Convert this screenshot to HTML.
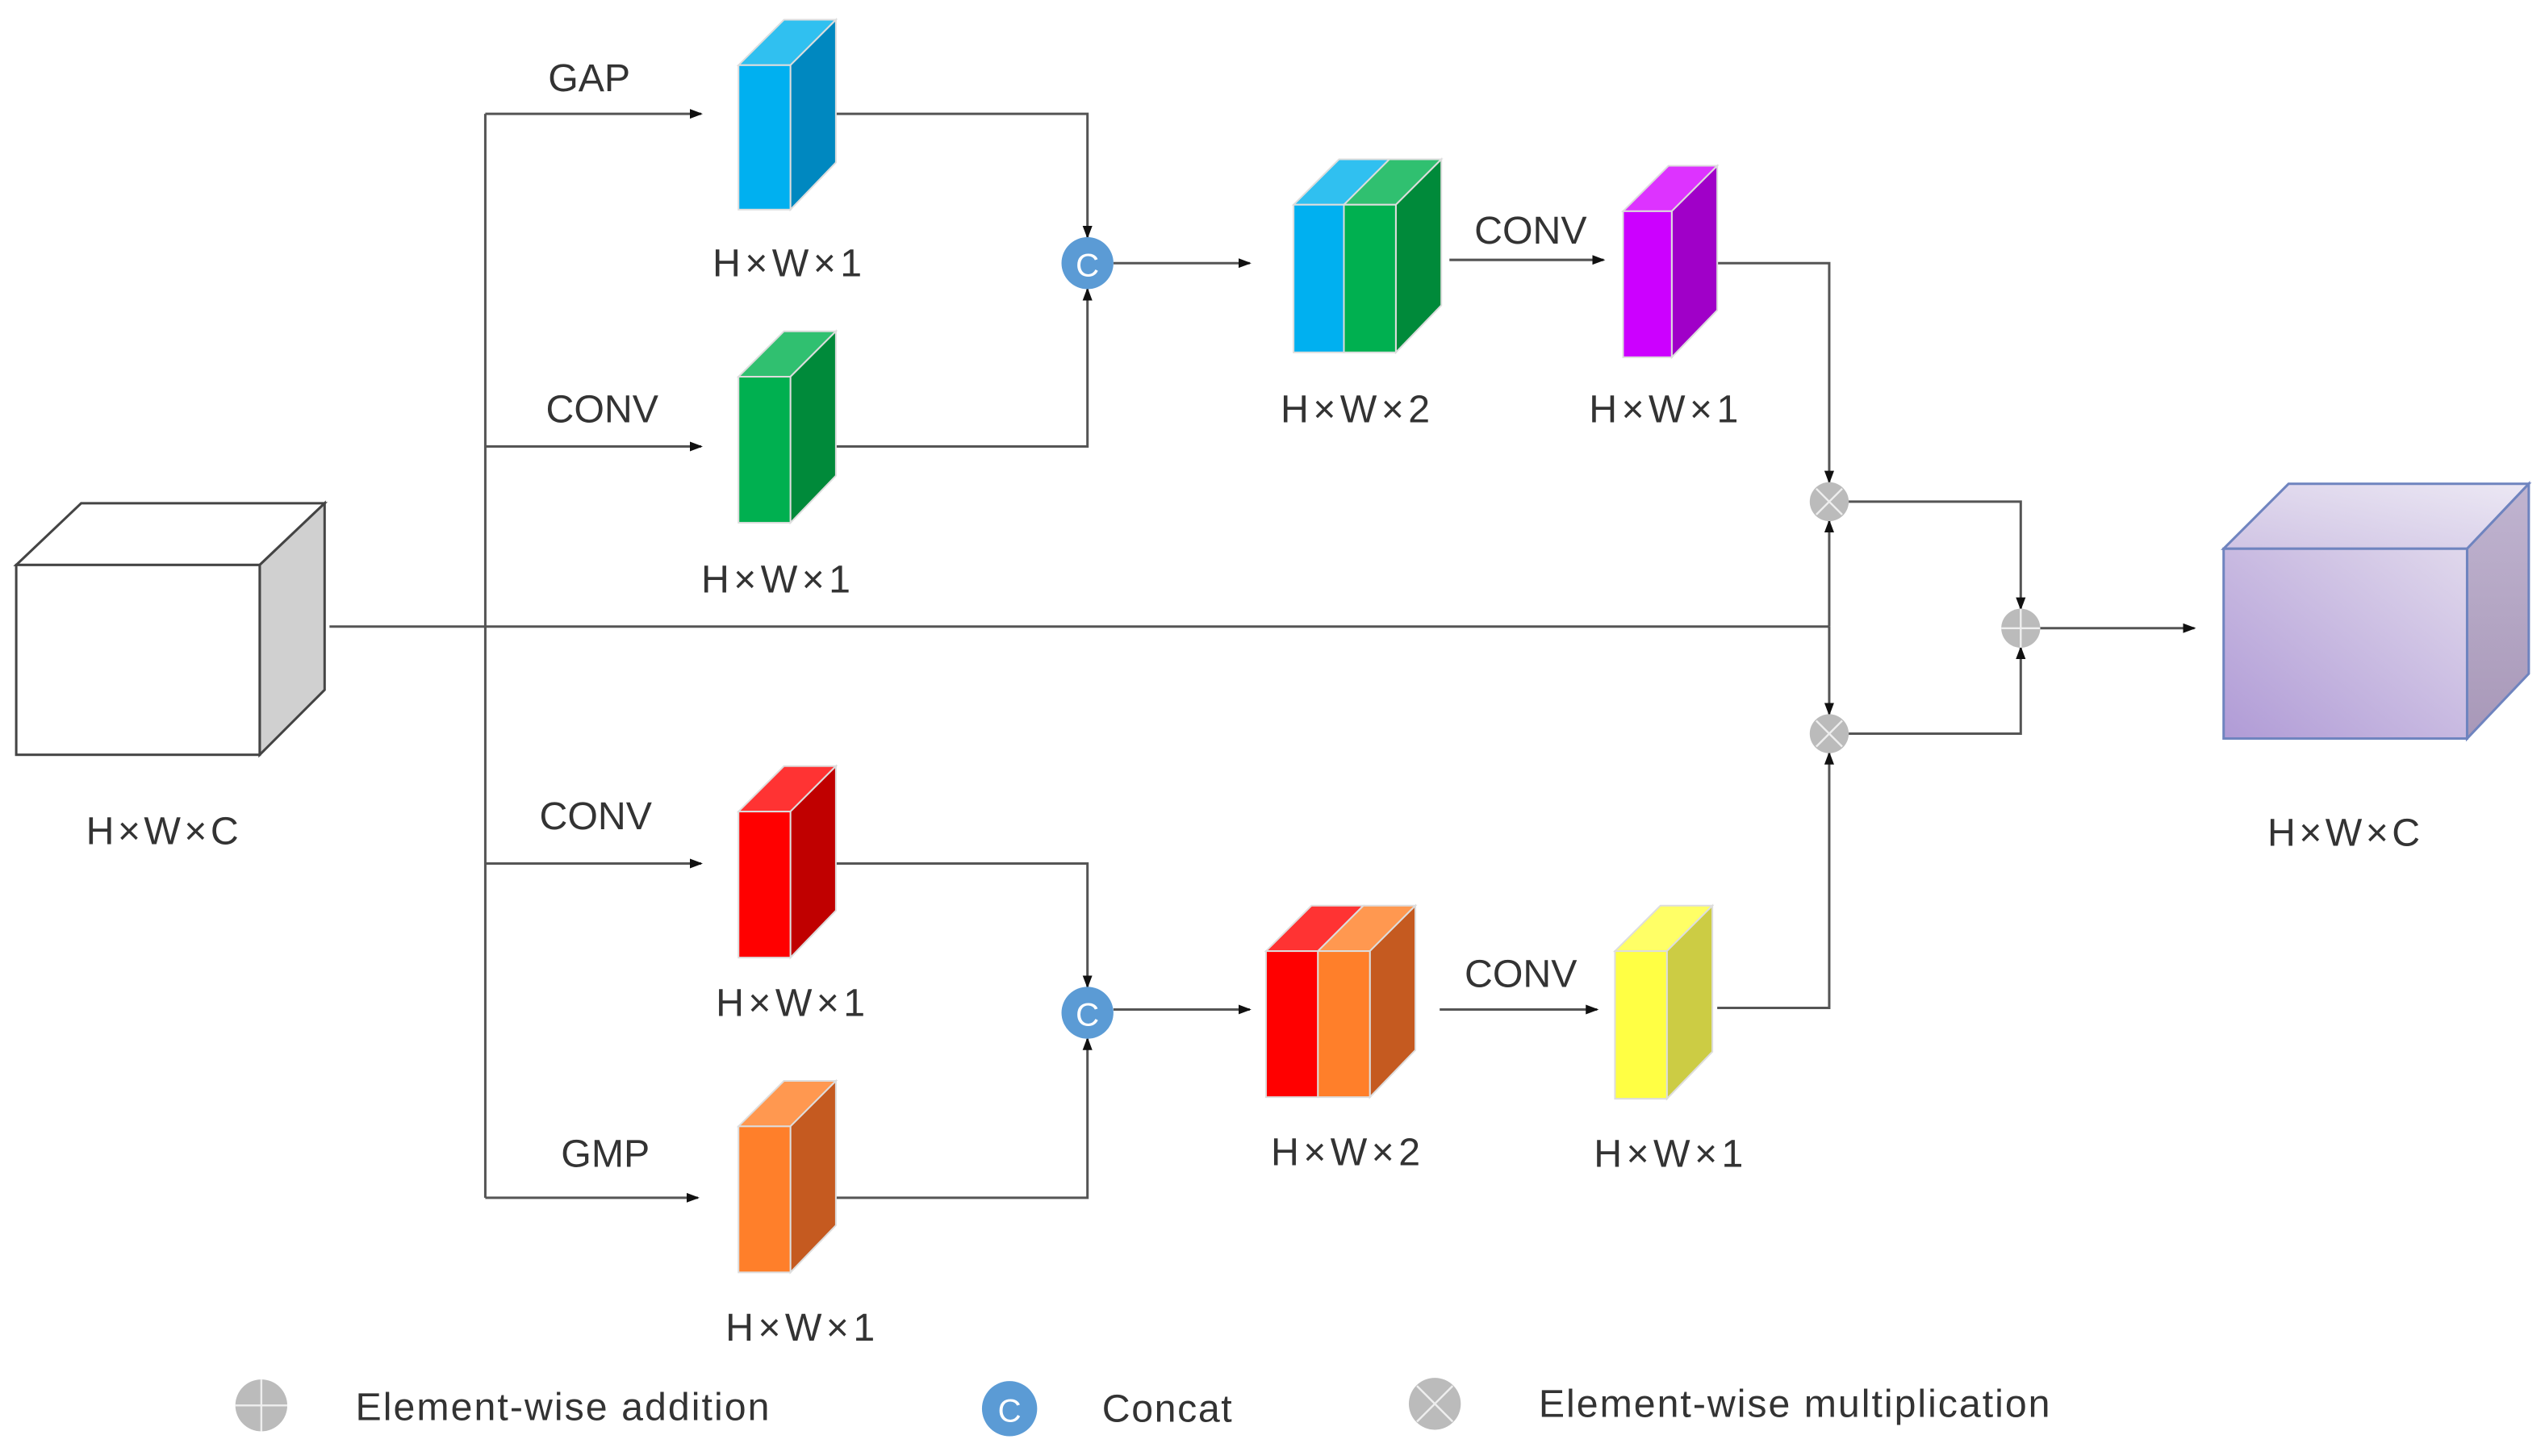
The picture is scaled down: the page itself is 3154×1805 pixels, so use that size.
<!DOCTYPE html>
<html><head><meta charset="utf-8"><style>html,body{margin:0;padding:0;background:#fff}svg{display:block}</style></head>
<body>
<svg width="3154" height="1805" viewBox="0 0 1568 897" xmlns="http://www.w3.org/2000/svg" font-family="Liberation Sans, sans-serif" font-size="24" fill="#333">
<defs>
<marker id="a" markerWidth="8" markerHeight="8" refX="7" refY="4" orient="auto" markerUnits="userSpaceOnUse"><path d="M0,1 L8,4 L0,7 z" fill="#111"/></marker>
<linearGradient id="pf" x1="0" y1="1" x2="1" y2="0"><stop offset="0" stop-color="#b09bd6"/><stop offset="1" stop-color="#e0d8ec"/></linearGradient>
<linearGradient id="pt" x1="0" y1="1" x2="1" y2="0"><stop offset="0" stop-color="#d0c4e4"/><stop offset="1" stop-color="#ece8f4"/></linearGradient>
<linearGradient id="ps" x1="0" y1="0" x2="0" y2="1"><stop offset="0" stop-color="#c0b4d0"/><stop offset="1" stop-color="#a898b8"/></linearGradient>
</defs>
<g stroke="#555" stroke-width="1.5" fill="none">
<line x1="203" y1="386" x2="1127" y2="386"/>
<line x1="299" y1="70" x2="299" y2="738"/>
<line x1="299" y1="70" x2="432" y2="70" marker-end="url(#a)"/>
<line x1="299" y1="275" x2="432" y2="275" marker-end="url(#a)"/>
<line x1="299" y1="532" x2="432" y2="532" marker-end="url(#a)"/>
<line x1="299" y1="738" x2="430" y2="738" marker-end="url(#a)"/>
<polyline points="515,70 670,70 670,146" marker-end="url(#a)"/>
<polyline points="515,275 670,275 670,178" marker-end="url(#a)"/>
<line x1="686" y1="162" x2="770" y2="162" marker-end="url(#a)"/>
<line x1="893" y1="160" x2="988" y2="160" marker-end="url(#a)"/>
<polyline points="1058,162 1127,162 1127,297" marker-end="url(#a)"/>
<line x1="1127" y1="386" x2="1127" y2="321" marker-end="url(#a)"/>
<line x1="1127" y1="386" x2="1127" y2="440" marker-end="url(#a)"/>
<polyline points="1058,621 1127,621 1127,464" marker-end="url(#a)"/>
<polyline points="1139,309 1245,309 1245,375" marker-end="url(#a)"/>
<polyline points="1139,452 1245,452 1245,399" marker-end="url(#a)"/>
<line x1="1257" y1="387" x2="1352" y2="387" marker-end="url(#a)"/>
<polyline points="515,532 670,532 670,608" marker-end="url(#a)"/>
<polyline points="515,738 670,738 670,640" marker-end="url(#a)"/>
<line x1="686" y1="622" x2="770" y2="622" marker-end="url(#a)"/>
<line x1="887" y1="622" x2="984" y2="622" marker-end="url(#a)"/>
</g>
<g stroke="#444" stroke-width="1.5">
<polygon points="10,348 50,310 200,310 160,348" fill="#fff"/>
<polygon points="160,348 200,310 200,425 160,465" fill="#d0d0d0"/>
<rect x="10" y="348" width="150" height="117" fill="#fff"/>
</g>
<g stroke="#6f84bf" stroke-width="1.5">
<polygon points="1370,338 1410,298 1558,298 1520,338" fill="url(#pt)"/>
<polygon points="1520,338 1558,298 1558,415 1520,455" fill="url(#ps)"/>
<rect x="1370" y="338" width="150" height="117" fill="url(#pf)"/>
</g>
<g stroke="#ddd" stroke-width="1">
<polygon points="455,40 483,12 515,12 487,40" fill="#30c0f0"/><polygon points="487,40 515,12 515,100 487,129" fill="#0088c0"/><rect x="455" y="40" width="32" height="89" fill="#00b0f0"/>
<polygon points="455,232 483,204 515,204 487,232" fill="#30c070"/><polygon points="487,232 515,204 515,293 487,322" fill="#008a3a"/><rect x="455" y="232" width="32" height="90" fill="#00b050"/>
<polygon points="455,500 483,472 515,472 487,500" fill="#ff3333"/><polygon points="487,500 515,472 515,561 487,590" fill="#c00000"/><rect x="455" y="500" width="32" height="90" fill="#ff0000"/>
<polygon points="455,694 483,666 515,666 487,694" fill="#ff9850"/><polygon points="487,694 515,666 515,755 487,784" fill="#c55a20"/><rect x="455" y="694" width="32" height="90" fill="#ff7f2a"/>
<polygon points="1000,130 1028,102 1058,102 1030,130" fill="#dd33ff"/><polygon points="1030,130 1058,102 1058,191 1030,220" fill="#a000c8"/><rect x="1000" y="130" width="30" height="90" fill="#cc00ff"/>
<polygon points="995,586 1023,558 1055,558 1027,586" fill="#ffff66"/><polygon points="1027,586 1055,558 1055,648 1027,677" fill="#cccc44"/><rect x="995" y="586" width="32" height="91" fill="#ffff44"/>
<polygon points="797,126 825,98 856,98 828,126" fill="#30c0f0"/><polygon points="828,126 856,98 888,98 860,126" fill="#30c070"/><polygon points="860,126 888,98 888,188 860,217" fill="#008a3a"/><rect x="797" y="126" width="31" height="91" fill="#00b0f0"/><rect x="828" y="126" width="32" height="91" fill="#00b050"/>
<polygon points="780,586 808,558 840,558 812,586" fill="#ff3333"/><polygon points="812,586 840,558 872,558 844,586" fill="#ff9850"/><polygon points="844,586 872,558 872,647 844,676" fill="#c55a20"/><rect x="780" y="586" width="32" height="90" fill="#ff0000"/><rect x="812" y="586" width="32" height="90" fill="#ff7f2a"/>
</g>
<g>
<circle cx="670" cy="162" r="16" fill="#5b9bd5"/><text x="670" y="170" font-size="20" fill="#fff" text-anchor="middle">C</text>
<circle cx="670" cy="624" r="16" fill="#5b9bd5"/><text x="670" y="632" font-size="20" fill="#fff" text-anchor="middle">C</text>
<circle cx="622" cy="868" r="17" fill="#5b9bd5"/><text x="622" y="876" font-size="20" fill="#fff" text-anchor="middle">C</text>
</g>
<g stroke="#eee" stroke-width="1.2">
<circle cx="1127" cy="309" r="12" fill="#bbb" stroke="none"/><path d="M1119,301 L1135,317 M1135,301 L1119,317"/>
<circle cx="1127" cy="452" r="12" fill="#bbb" stroke="none"/><path d="M1119,444 L1135,460 M1135,444 L1119,460"/>
<circle cx="1245" cy="387" r="12" fill="#bbb" stroke="none"/><path d="M1233,387 L1257,387 M1245,375 L1245,399"/>
<circle cx="161" cy="866" r="16" fill="#bbb" stroke="none"/><path d="M145,866 L177,866 M161,850 L161,882"/>
<circle cx="884" cy="865" r="16" fill="#bbb" stroke="none"/><path d="M873,854 L895,876 M895,854 L873,876"/>
</g>
<g text-anchor="middle">
<text x="100" y="520" textLength="94">H×W×C</text>
<text x="1444" y="521" textLength="94">H×W×C</text>
<text x="363" y="56">GAP</text>
<text x="485" y="170" textLength="92">H×W×1</text>
<text x="371" y="260">CONV</text>
<text x="478" y="365" textLength="92">H×W×1</text>
<text x="835" y="260" textLength="92">H×W×2</text>
<text x="943" y="150">CONV</text>
<text x="1025" y="260" textLength="92">H×W×1</text>
<text x="367" y="511">CONV</text>
<text x="487" y="626" textLength="92">H×W×1</text>
<text x="373" y="719">GMP</text>
<text x="493" y="826" textLength="92">H×W×1</text>
<text x="829" y="718" textLength="92">H×W×2</text>
<text x="937" y="608">CONV</text>
<text x="1028" y="719" textLength="92">H×W×1</text>
</g>
<text x="219" y="875" textLength="255">Element-wise addition</text>
<text x="679" y="876" textLength="80">Concat</text>
<text x="948" y="873" textLength="315">Element-wise multiplication</text>
</svg>
</body></html>
